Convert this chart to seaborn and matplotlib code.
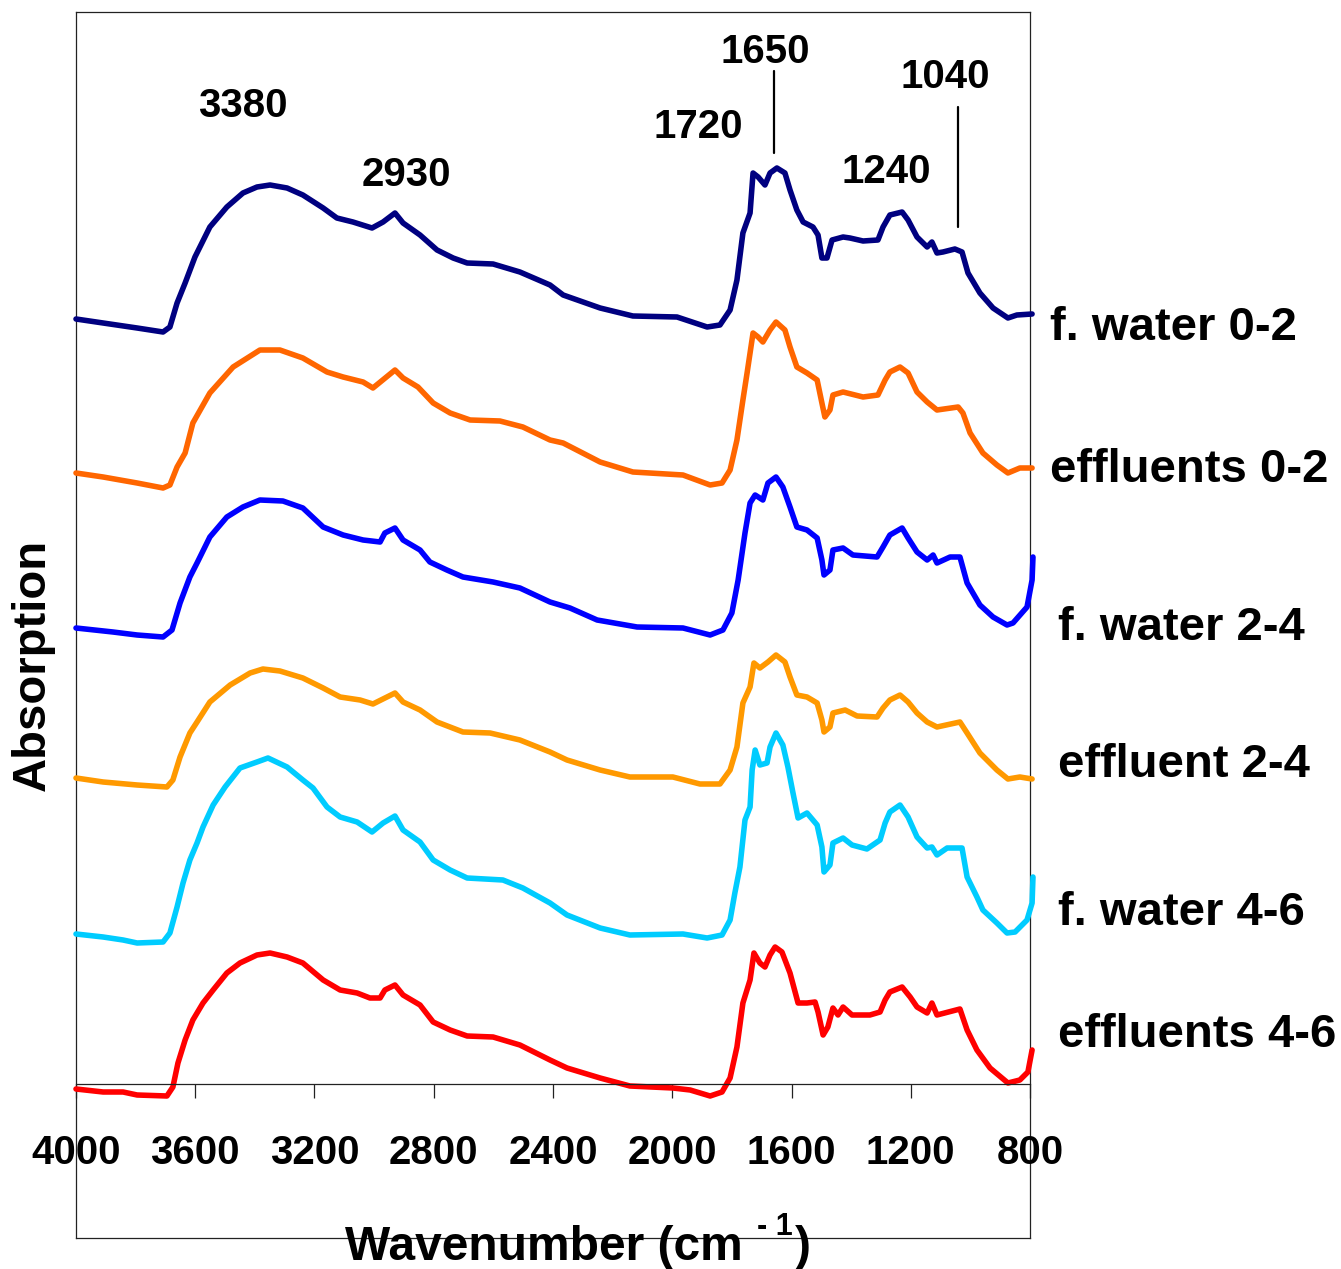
import matplotlib
matplotlib.use("Agg")
import matplotlib.pyplot as plt
import pandas as pd
import seaborn as sns

# ---------------------------------------------------------------- data
# FTIR spectra (stacked, arbitrary absorption units), wavenumber in cm-1
wn_fw02 = [4000, 3909, 3795, 3708, 3685, 3661, 3634, 3601, 3551, 3494, 3440, 3393, 3349, 3292,
           3239, 3171, 3125, 3071, 3007, 2970, 2930, 2903, 2846, 2789, 2735, 2688, 2601, 2511,
           2410, 2366, 2242, 2132, 1984, 1883, 1840, 1806, 1783, 1763, 1739, 1729, 1712, 1689,
           1672, 1649, 1622, 1605, 1582, 1561, 1528, 1511, 1498, 1481, 1464, 1427, 1404, 1360,
           1310, 1293, 1270, 1229, 1209, 1179, 1145, 1129, 1112, 1092, 1052, 1028, 1008, 968,
           924, 874, 844, 793]
ab_fw02 = [0.765, 0.761, 0.756, 0.752, 0.757, 0.781, 0.801, 0.827, 0.857, 0.877, 0.891, 0.897,
           0.899, 0.896, 0.889, 0.876, 0.866, 0.862, 0.856, 0.862, 0.871, 0.861, 0.849, 0.834,
           0.826, 0.821, 0.820, 0.812, 0.799, 0.789, 0.776, 0.768, 0.767, 0.757, 0.759, 0.774,
           0.804, 0.851, 0.871, 0.911, 0.907, 0.899, 0.911, 0.916, 0.911, 0.894, 0.874, 0.862,
           0.857, 0.849, 0.826, 0.826, 0.844, 0.847, 0.846, 0.843, 0.844, 0.857, 0.869, 0.872,
           0.864, 0.847, 0.837, 0.842, 0.831, 0.832, 0.835, 0.832, 0.811, 0.791, 0.776, 0.766,
           0.769, 0.770]

wn_ef02 = [4000, 3909, 3795, 3708, 3685, 3661, 3634, 3608, 3551, 3473, 3383, 3316, 3239, 3158,
           3104, 3037, 3004, 2930, 2903, 2853, 2802, 2745, 2678, 2578, 2501, 2410, 2366, 2242,
           2132, 1964, 1873, 1833, 1806, 1783, 1763, 1749, 1729, 1712, 1696, 1672, 1652, 1622,
           1605, 1582, 1548, 1514, 1498, 1488, 1471, 1461, 1427, 1360, 1310, 1286, 1270, 1236,
           1209, 1179, 1145, 1112, 1041, 1025, 1001, 958, 911, 874, 834, 793]
ab_ef02 = [0.611, 0.607, 0.601, 0.596, 0.599, 0.617, 0.631, 0.661, 0.691, 0.717, 0.734, 0.734,
           0.726, 0.712, 0.707, 0.702, 0.696, 0.714, 0.706, 0.697, 0.681, 0.671, 0.664, 0.663,
           0.657, 0.644, 0.641, 0.622, 0.612, 0.609, 0.599, 0.601, 0.614, 0.644, 0.684, 0.711,
           0.751, 0.747, 0.742, 0.754, 0.762, 0.754, 0.737, 0.717, 0.711, 0.704, 0.681, 0.667,
           0.674, 0.689, 0.692, 0.687, 0.689, 0.704, 0.712, 0.717, 0.711, 0.692, 0.682, 0.674,
           0.677, 0.671, 0.651, 0.631, 0.619, 0.611, 0.616, 0.616]

wn_fw24 = [4000, 3876, 3795, 3708, 3678, 3651, 3618, 3594, 3551, 3494, 3440, 3383, 3306, 3239,
           3171, 3104, 3037, 2980, 2964, 2930, 2903, 2846, 2813, 2756, 2702, 2601, 2511, 2410,
           2343, 2252, 2118, 1964, 1873, 1830, 1800, 1779, 1756, 1739, 1722, 1696, 1679, 1652,
           1629, 1605, 1582, 1548, 1514, 1498, 1491, 1471, 1461, 1427, 1394, 1313, 1293, 1270,
           1229, 1209, 1179, 1145, 1125, 1112, 1068, 1035, 1011, 968, 924, 877, 857, 810, 793, 790]
ab_fw24 = [0.456, 0.452, 0.449, 0.447, 0.454, 0.481, 0.507, 0.521, 0.547, 0.567, 0.577, 0.584,
           0.583, 0.576, 0.557, 0.549, 0.544, 0.542, 0.551, 0.556, 0.544, 0.534, 0.522, 0.514,
           0.507, 0.502, 0.496, 0.482, 0.476, 0.464, 0.457, 0.456, 0.449, 0.454, 0.471, 0.504,
           0.551, 0.581, 0.589, 0.584, 0.601, 0.607, 0.597, 0.577, 0.557, 0.554, 0.546, 0.524,
           0.509, 0.514, 0.534, 0.536, 0.529, 0.527, 0.537, 0.549, 0.556, 0.546, 0.532, 0.524,
           0.529, 0.521, 0.527, 0.527, 0.501, 0.479, 0.467, 0.459, 0.461, 0.477, 0.504, 0.527]

wn_ef24 = [4000, 3909, 3795, 3695, 3675, 3651, 3618, 3594, 3551, 3483, 3416, 3373, 3316, 3239,
           3171, 3114, 3047, 3004, 2930, 2903, 2846, 2789, 2702, 2611, 2511, 2410, 2353, 2242,
           2142, 1998, 1907, 1840, 1806, 1783, 1763, 1739, 1726, 1706, 1679, 1652, 1622, 1605,
           1582, 1548, 1514, 1498, 1491, 1471, 1461, 1420, 1380, 1313, 1293, 1270, 1236, 1209,
           1179, 1145, 1112, 1035, 1011, 968, 911, 874, 834, 793]
ab_ef24 = [0.306, 0.302, 0.299, 0.297, 0.304, 0.327, 0.351, 0.362, 0.382, 0.399, 0.411, 0.415,
           0.413, 0.406, 0.396, 0.387, 0.384, 0.380, 0.391, 0.382, 0.374, 0.362, 0.352, 0.351,
           0.344, 0.332, 0.324, 0.314, 0.307, 0.307, 0.300, 0.300, 0.314, 0.337, 0.381, 0.397,
           0.421, 0.416, 0.422, 0.429, 0.422, 0.407, 0.389, 0.387, 0.381, 0.364, 0.352, 0.357,
           0.371, 0.374, 0.368, 0.367, 0.376, 0.384, 0.389, 0.382, 0.371, 0.362, 0.357, 0.362,
           0.351, 0.331, 0.314, 0.305, 0.307, 0.305]

wn_fw46 = [4000, 3909, 3842, 3795, 3708, 3685, 3661, 3641, 3618, 3594, 3574, 3540, 3500, 3450,
           3393, 3356, 3292, 3239, 3205, 3158, 3114, 3057, 3007, 2970, 2930, 2903, 2846, 2802,
           2745, 2688, 2568, 2501, 2410, 2353, 2242, 2142, 1964, 1883, 1833, 1806, 1790, 1773,
           1756, 1739, 1732, 1722, 1706, 1682, 1672, 1652, 1629, 1612, 1595, 1578, 1548, 1514,
           1498, 1491, 1471, 1461, 1427, 1397, 1347, 1303, 1286, 1270, 1236, 1209, 1179, 1145,
           1129, 1112, 1078, 1028, 1011, 978, 958, 911, 877, 850, 810, 793, 790]
ab_fw46 = [0.150, 0.147, 0.144, 0.141, 0.142, 0.151, 0.177, 0.201, 0.224, 0.241, 0.257, 0.279,
           0.297, 0.316, 0.322, 0.326, 0.317, 0.304, 0.296, 0.277, 0.267, 0.262, 0.252, 0.261,
           0.268, 0.254, 0.242, 0.224, 0.214, 0.206, 0.204, 0.196, 0.181, 0.169, 0.156, 0.149,
           0.150, 0.146, 0.149, 0.164, 0.191, 0.217, 0.264, 0.277, 0.314, 0.334, 0.319, 0.321,
           0.337, 0.351, 0.339, 0.317, 0.291, 0.266, 0.271, 0.259, 0.237, 0.212, 0.219, 0.241,
           0.246, 0.239, 0.235, 0.244, 0.261, 0.272, 0.279, 0.267, 0.247, 0.236, 0.237, 0.229,
           0.236, 0.236, 0.207, 0.187, 0.174, 0.161, 0.151, 0.152, 0.164, 0.181, 0.207]

wn_ef46 = [4000, 3909, 3842, 3795, 3695, 3675, 3658, 3634, 3608, 3574, 3540, 3494, 3450, 3393,
           3349, 3292, 3239, 3171, 3114, 3057, 3014, 2980, 2964, 2930, 2903, 2846, 2802, 2745,
           2688, 2601, 2511, 2410, 2353, 2242, 2142, 1998, 1940, 1873, 1833, 1806, 1783, 1763,
           1739, 1726, 1706, 1689, 1672, 1655, 1632, 1605, 1578, 1548, 1521, 1511, 1494, 1478,
           1461, 1444, 1427, 1397, 1337, 1303, 1286, 1270, 1229, 1202, 1179, 1145, 1129, 1112,
           1035, 1011, 978, 934, 874, 834, 807, 793]
ab_ef46 = [-0.005, -0.008, -0.008, -0.011, -0.012, -0.003, 0.021, 0.044, 0.064, 0.081, 0.094,
           0.111, 0.121, 0.129, 0.131, 0.127, 0.121, 0.104, 0.094, 0.091, 0.086, 0.086, 0.094,
           0.099, 0.089, 0.079, 0.062, 0.054, 0.048, 0.047, 0.039, 0.024, 0.016, 0.006, -0.002,
           -0.004, -0.006, -0.012, -0.008, 0.006, 0.037, 0.081, 0.104, 0.131, 0.121, 0.117,
           0.129, 0.137, 0.132, 0.111, 0.081, 0.081, 0.082, 0.072, 0.049, 0.057, 0.076, 0.069,
           0.077, 0.069, 0.069, 0.072, 0.084, 0.092, 0.097, 0.087, 0.077, 0.071, 0.081, 0.069,
           0.075, 0.054, 0.034, 0.016, 0.001, 0.004, 0.012, 0.034]

series_names = ["f. water 0-2", "effluents 0-2", "f. water 2-4",
                "effluent 2-4", "f. water 4-6", "effluents 4-6"]
series_wn = [wn_fw02, wn_ef02, wn_fw24, wn_ef24, wn_fw46, wn_ef46]
series_ab = [ab_fw02, ab_ef02, ab_fw24, ab_ef24, ab_fw46, ab_ef46]
series_colors = ["#000080", "#FF6600", "#0000FF", "#FF9900", "#00CCFF", "#FF0000"]

tick_values = [4000, 3600, 3200, 2800, 2400, 2000, 1600, 1200, 800]

# band labels: text, wavenumber of label centre, baseline height
band_labels = ["3380", "2930", "1720", "1650", "1240", "1040"]
band_label_wn = [3440, 2893, 1914, 1689, 1283, 1085]
band_label_y = [0.967, 0.898, 0.946, 1.021, 0.901, 0.996]
# marker lines above bands: wavenumber, lower end, upper end
band_line_wn = [1658, 1040]
band_line_lo = [0.931, 0.857]
band_line_hi = [1.013, 0.977]

# ---------------------------------------------------------------- style
sns.set_style("white")
plt.rcParams["font.family"] = ["Liberation Sans", "DejaVu Sans"]
plt.rcParams["font.weight"] = "bold"
plt.rcParams["text.color"] = "black"
plt.rcParams["xtick.color"] = "black"
plt.rcParams["ytick.color"] = "black"
plt.rcParams["axes.labelcolor"] = "black"

W, H = 1341, 1269
fig = plt.figure(figsize=(W / 100, H / 100), dpi=100)

left, right = 76 / W, 1030 / W
top = 1 - 12 / H
frame_bottom = 1 - 1238 / H
axis_bottom = 1 - 1084 / H

# outer plot-area frame
frame = fig.add_axes([left, frame_bottom, right - left, top - frame_bottom])
frame.set_xticks([])
frame.set_yticks([])
frame.set_facecolor("white")
for sp in frame.spines.values():
    sp.set_visible(True)
    sp.set_color("#222222")
    sp.set_linewidth(0.9)

# spectra axes
ax = fig.add_axes([left, axis_bottom, right - left, top - axis_bottom])
ax.patch.set_alpha(0)

rows = []
for name, wn, ab in zip(series_names, series_wn, series_ab):
    for w, a in zip(wn, ab):
        rows.append({"series": name, "wavenumber": w, "absorption": a})
df = pd.DataFrame(rows)

sns.lineplot(data=df, x="wavenumber", y="absorption", hue="series",
             hue_order=series_names, palette=dict(zip(series_names, series_colors)),
             sort=False, estimator=None, legend=False, linewidth=4.0,
             clip_on=False, ax=ax)

ax.set_xlim(4000, 800)
ax.set_ylim(0, 1.072)
ax.set_xlabel("")
ax.set_ylabel("")
ax.set_yticks([])
ax.set_xticks(tick_values)
ax.set_xticklabels([str(t) for t in tick_values], fontsize=29, fontweight="bold",
                   color="black")
ax.tick_params(axis="x", direction="out", length=10, width=0.9, pad=26,
               color="#222222", bottom=True)
for side in ["top", "left", "right"]:
    ax.spines[side].set_visible(False)
ax.spines["bottom"].set_visible(True)
ax.spines["bottom"].set_color("#222222")
ax.spines["bottom"].set_linewidth(0.9)

# band annotations
for txt, xw, yb in zip(band_labels, band_label_wn, band_label_y):
    ax.text(xw, yb, txt, ha="center", va="baseline", fontsize=29,
            fontweight="bold", color="black", clip_on=False)
for xw, lo, hi in zip(band_line_wn, band_line_lo, band_line_hi):
    ax.plot([xw, xw], [lo, hi], color="black", linewidth=1.6, clip_on=False)

# series names on the right
label_x_px = [1050, 1050, 1058, 1058, 1058, 1058]
label_y_px = [328, 470, 628, 765, 913, 1035]
for name, lx, ly in zip(series_names, label_x_px, label_y_px):
    fig.text(lx / W, 1 - ly / H, name, ha="left", va="center",
             fontsize=34, fontweight="bold", color="black")

# x axis title: main text, raised "- 1", closing parenthesis
renderer = fig.canvas.get_renderer()
base_y = 1 - 1260 / H
t_main = fig.text(345 / W, base_y, "Wavenumber (cm", ha="left", va="baseline",
                  fontsize=34.5, fontweight="bold", color="black")
x_end = t_main.get_window_extent(renderer).x1
t_sup = fig.text((x_end + 14) / W, base_y + 25 / H, "- 1", ha="left", va="baseline",
                 fontsize=22, fontweight="bold", color="black")
x_end = t_sup.get_window_extent(renderer).x1
fig.text((x_end + 2) / W, base_y, ")", ha="left", va="baseline",
         fontsize=34.5, fontweight="bold", color="black")

fig.text(33 / W, 1 - 665 / H, "Absorption", ha="center", va="center",
         rotation=90, fontsize=34, fontweight="bold", color="black")

fig.savefig("out.png", dpi=100, facecolor="white")
